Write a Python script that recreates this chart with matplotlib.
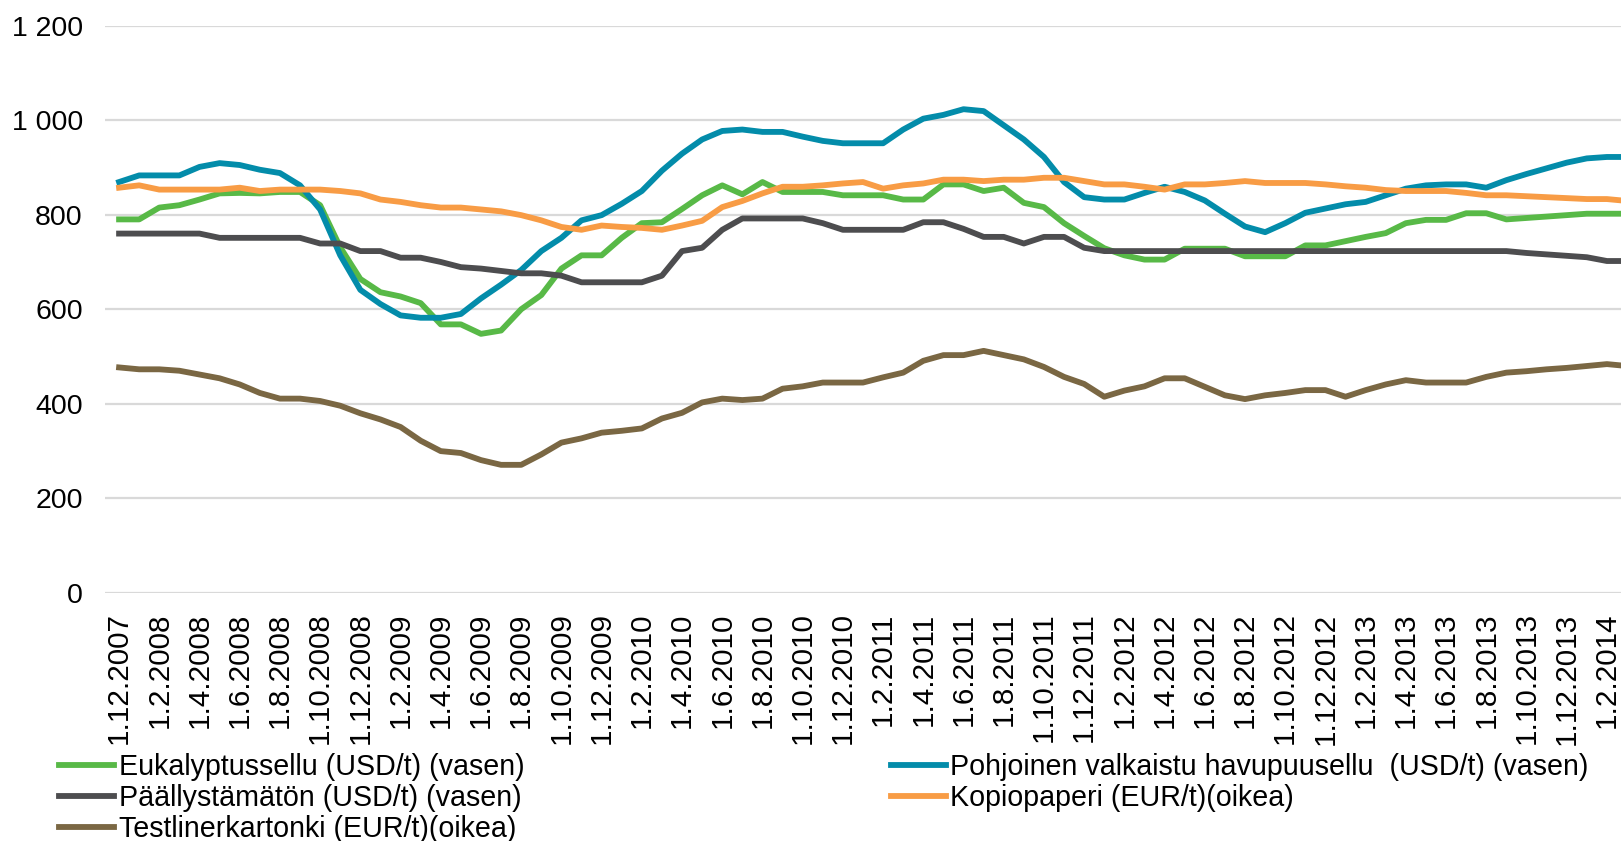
import numpy as np, pandas as pd
import matplotlib
matplotlib.use("Agg")
import matplotlib.pyplot as plt

plt.rcParams['font.family'] = ['Liberation Sans', 'DejaVu Sans']

# ---------- Data (monthly, 1.12.2007 .. 1.3.2014) ----------
months = pd.date_range("2007-12-01", "2014-03-01", freq="MS")
date_labels = [f"{d.day}.{d.month}.{d.year}" for d in months]

eukalyptus = [790, 790, 815, 820, 832, 845, 846, 845, 848, 848,
              820, 731, 664, 636, 627, 613, 568, 568, 548, 555,
              600, 630, 686, 714, 714, 751, 782, 784, 812, 841,
              862, 843, 869, 848, 848, 848, 841, 841, 841, 832,
              832, 864, 864, 850, 857, 825, 816, 782, 755, 729,
              714, 705, 705, 728, 728, 728, 712, 712, 712, 735,
              735, 744, 753, 761, 782, 789, 789, 803, 803, 790,
              793, 796, 799, 802, 802, 802]
pohjoinen = [869, 883, 883, 883, 901, 909, 905, 895, 888, 862,
             811, 714, 641, 611, 587, 582, 582, 590, 623, 652,
             683, 723, 751, 788, 799, 823, 850, 893, 929, 959,
             977, 980, 975, 975, 965, 956, 951, 951, 951, 980,
             1003, 1011, 1023, 1019, 989, 959, 922, 869, 837, 832,
             832, 846, 859, 848, 830, 802, 775, 763, 782, 804,
             813, 822, 827, 841, 855, 862, 864, 864, 857, 873,
             886, 898, 910, 919, 922, 922]
paallystamaton = [760, 760, 760, 760, 760, 751, 751, 751, 751, 751,
                  739, 739, 723, 723, 709, 709, 700, 689, 686, 681,
                  676, 676, 671, 657, 657, 657, 657, 671, 723, 730,
                  768, 792, 792, 792, 792, 782, 768, 768, 768, 768,
                  784, 784, 770, 753, 753, 739, 753, 753, 730, 723,
                  723, 723, 723, 723, 723, 723, 723, 723, 723, 723,
                  723, 723, 723, 723, 723, 723, 723, 723, 723, 723,
                  719, 716, 713, 710, 702, 702]
kopiopaperi = [857, 862, 853, 853, 853, 853, 857, 850, 853, 853,
               853, 850, 845, 832, 827, 820, 815, 815, 811, 807,
               799, 788, 774, 768, 777, 774, 772, 768, 777, 787,
               816, 829, 845, 859, 859, 862, 866, 869, 855, 862,
               866, 874, 874, 871, 874, 874, 878, 878, 871, 864,
               864, 859, 853, 864, 864, 867, 871, 867, 867, 867,
               864, 860, 857, 852, 850, 850, 850, 846, 841, 841,
               839, 837, 835, 833, 833, 829]
testliner = [477, 473, 473, 470, 462, 454, 441, 423, 411, 411,
             406, 396, 380, 367, 351, 322, 300, 296, 281, 271,
             271, 293, 318, 327, 339, 343, 348, 369, 381, 403,
             411, 408, 411, 432, 437, 445, 445, 445, 456, 466,
             491, 503, 503, 512, 503, 494, 478, 457, 442, 415,
             428, 437, 454, 454, 436, 418, 410, 418, 423, 429,
             429, 415, 429, 441, 450, 445, 445, 445, 457, 466,
             469, 473, 476, 480, 484, 480]

names = ["Eukalyptussellu (USD/t) (vasen)",
         "Pohjoinen valkaistu havupuusellu  (USD/t) (vasen)",
         "Päällystämätön (USD/t) (vasen)",
         "Kopiopaperi (EUR/t)(oikea)",
         "Testlinerkartonki (EUR/t)(oikea)"]
colors = ["#58B947", "#038CAA", "#4D4D4F", "#F89C45", "#7A6743"]
yticks = [0, 200, 400, 600, 800, 1000, 1200]

# ---------- Plot ----------
W, H = 1621, 841
fig = plt.figure(figsize=(W/100, H/100), dpi=100)
ax = fig.add_axes([105/W, 1-593/H, 1-105/W, (593-25.5)/H])

x = np.arange(len(months))
lines = {}
for name, vals, col in zip(names, [eukalyptus, pohjoinen, paallystamaton, kopiopaperi, testliner], colors):
    lines[name], = ax.plot(x, vals, color=col, lw=4.2, label=name)

ax.set_ylim(0, 1200)
ax.set_yticks(yticks)
ax.set_yticklabels([f"{v:,}".replace(",", " ") for v in yticks])
ax.set_xticks(x[::2])
ax.set_xticklabels(date_labels[::2], rotation=90)
ax.set_xlim(-0.7, 74.7)
ax.yaxis.grid(True, color="#D9D9D9", lw=1.6)
ax.set_axisbelow(True)
for s in ax.spines.values():
    s.set_visible(False)
ax.tick_params(axis="y", length=0, pad=16, labelsize=20.5)
ax.tick_params(axis="x", length=0, pad=14, labelsize=21.3)

order = [names[0], names[2], names[4], names[1], names[3]]
fig.legend(handles=[lines[n] for n in order], ncol=2, loc="upper left",
           bbox_to_anchor=(59/W, 1-753/H), frameon=False, fontsize=20.6,
           handlelength=1.92, handletextpad=0.17, columnspacing=12.8,
           labelspacing=0.1, borderpad=0, borderaxespad=0)

fig.savefig("out.png", dpi=100)
